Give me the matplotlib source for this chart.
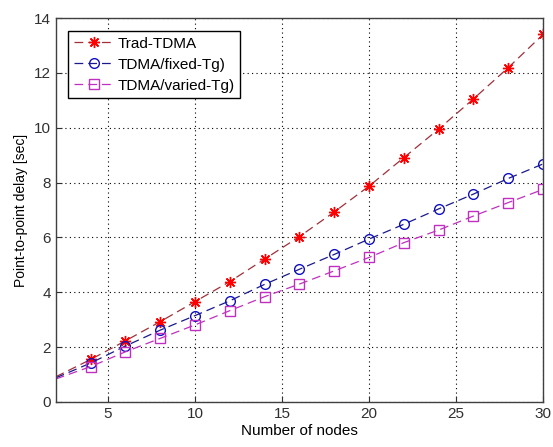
import matplotlib
matplotlib.use('Agg')
import matplotlib.pyplot as plt

plt.rcParams['font.family'] = ['Liberation Sans', 'DejaVu Sans']

# Data
nodes = [2, 4, 6, 8, 10, 12, 14, 16, 18, 20, 22, 24, 26, 28, 30]
trad_tdma = [0.92, 1.55, 2.23, 2.93, 3.66, 4.39, 5.21, 6.03, 6.93, 7.87, 8.91, 9.95, 11.05, 12.19, 13.4]
fixed_tg = [0.88, 1.42, 2.04, 2.62, 3.15, 3.69, 4.29, 4.84, 5.38, 5.94, 6.48, 7.04, 7.58, 8.15, 8.68]
varied_tg = [0.84, 1.29, 1.83, 2.32, 2.81, 3.33, 3.84, 4.30, 4.78, 5.27, 5.81, 6.27, 6.78, 7.27, 7.75]
labels = ['Trad-TDMA', 'TDMA/fixed-Tg)', 'TDMA/varied-Tg)']

fig = plt.figure(figsize=(5.53, 4.47), dpi=100)
ax = fig.add_axes([0.101, 0.1007, 0.881, 0.859])

mk = slice(1, None)
ax.plot(nodes, trad_tdma, '--', color='#a0303a', marker=(8, 2, 0), markersize=8,
        markeredgecolor='red', markeredgewidth=1.0, markevery=mk,
        dashes=(7, 4), lw=0.9, label=labels[0])
ax.plot(nodes, fixed_tg, '--', color='#1a1a8c', marker='o', markersize=7,
        markeredgecolor='#1010c0', markerfacecolor='none', markevery=mk,
        dashes=(7, 4), lw=0.9, label=labels[1])
ax.plot(nodes, varied_tg, '--', color='#c030c0', marker='s', markersize=7,
        markeredgecolor='#c030c0', markerfacecolor='none', markevery=mk,
        dashes=(7, 4), lw=0.9, label=labels[2])

ax.set_xlim(2, 30)
ax.set_ylim(0, 14)
ax.set_xticks([5, 10, 15, 20, 25, 30])
ax.set_yticks(range(0, 15, 2))
ax.grid(True, linestyle=(0, (1, 3)), color='black', lw=0.8)
ax.tick_params(direction='in', labelsize=11, length=4, colors='#303030')
for s in ax.spines.values():
    s.set_linewidth(1.0)
    s.set_color('#404040')

ax.set_xlabel('Number of nodes', fontsize=11, labelpad=2)
ax.set_ylabel('Point-to-point delay [sec]', fontsize=10, labelpad=4)

leg = ax.legend(loc='upper left', bbox_to_anchor=(0.01, 0.985), fontsize=11,
                fancybox=False, framealpha=1, edgecolor='black',
                handlelength=2.6, borderpad=0.35, labelspacing=0.45, handletextpad=0.3)
leg.get_frame().set_linewidth(1.0)

fig.savefig('out.png', dpi=100)
